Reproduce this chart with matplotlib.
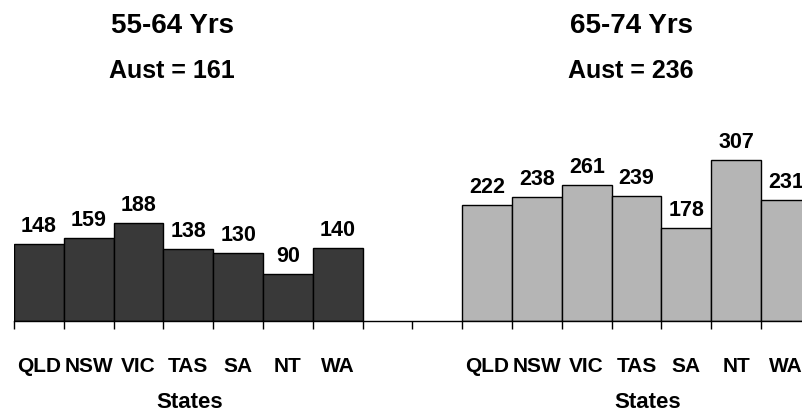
import matplotlib.pyplot as plt
import numpy as np

plt.rcParams['font.family'] = ['Liberation Sans', 'DejaVu Sans']
plt.rcParams['font.weight'] = 'bold'

states = ["QLD", "NSW", "VIC", "TAS", "SA", "NT", "WA"]
rates_55_64 = [148, 159, 188, 138, 130, 90, 140]
rates_65_74 = [222, 238, 261, 239, 178, 307, 231]
aust_55_64 = 161
aust_65_74 = 236

fig = plt.figure(figsize=(8.03, 4.15), dpi=100)
# axis runs a little past the right edge of the figure, so the last bar is cut
ax = fig.add_axes([14 / 803, 93.7 / 415, 796.8 / 803, 209.6 / 415])

n = len(states)
x_left = np.arange(n) + 0.5
x_right = np.arange(n) + n + 2 + 0.5

b1 = ax.bar(x_left, rates_55_64, width=1.0, color="#393939",
            edgecolor="black", linewidth=1)
b2 = ax.bar(x_right, rates_65_74, width=1.0, color="#b5b5b5",
            edgecolor="black", linewidth=1)
for bars in (b1, b2):
    ax.bar_label(bars, padding=5, fontsize=15.5, fontweight="bold")

ax.set_xlim(0, 2 * n + 2)
ax.set_ylim(0, 400)

# tick marks at slot boundaries, state names centred under each slot
ax.set_xticks(np.arange(0, 2 * n + 3))
ax.set_xticklabels([])
ax.set_xticks(np.concatenate([x_left, x_right]), minor=True)
ax.set_xticklabels(states + states, minor=True, fontsize=15, fontweight="bold")
ax.tick_params(axis="x", which="major", length=6, width=1, direction="out")
ax.tick_params(axis="x", which="minor", length=0, pad=26)
ax.set_yticks([])
for side in ("left", "right", "top"):
    ax.spines[side].set_visible(False)
ax.spines["bottom"].set_linewidth(1)

fig.text(173 / 803, 1 - 26 / 415, "55-64 Yrs", ha="center", va="center",
         fontsize=20, fontweight="bold")
fig.text(172 / 803, 1 - 71 / 415, f"Aust = {aust_55_64}", ha="center",
         va="center", fontsize=18, fontweight="bold")
fig.text(632 / 803, 1 - 26 / 415, "65-74 Yrs", ha="center", va="center",
         fontsize=20, fontweight="bold")
fig.text(631 / 803, 1 - 71 / 415, f"Aust = {aust_65_74}", ha="center",
         va="center", fontsize=18, fontweight="bold")
fig.text(190 / 803, 1 - 402 / 415, "States", ha="center", va="center",
         fontsize=16, fontweight="bold")
fig.text(648 / 803, 1 - 402 / 415, "States", ha="center", va="center",
         fontsize=16, fontweight="bold")

fig.savefig("out.png", dpi=100)
